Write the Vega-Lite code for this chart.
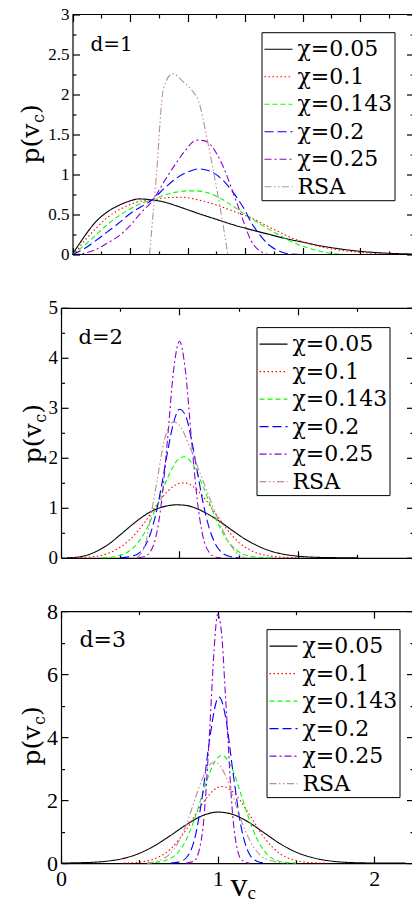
{
  "$schema": "https://vega.github.io/schema/vega-lite/v6.json",
  "padding": {"left": 19, "top": 5.5, "right": 0, "bottom": 0},
  "spacing": 53.3,
  "bounds": "flush",
  "resolve": {"scale": {"color": "independent", "strokeDash": "independent"}, "legend": {"color": "independent", "strokeDash": "independent"}},
  "config": {
    "view": {"stroke": null},
    "axis": {"domainColor": "black", "tickColor": "black", "domainWidth": 1.2, "tickWidth": 1.2, "labelColor": "black", "labelFont": "Liberation Serif", "grid": false, "labelOverlap": false, "labelFlush": false},
    "legend": {"title": null, "orient": "none", "strokeColor": "black", "fillColor": "white", "padding": 2, "labelFont": "DejaVu Serif", "labelFontSize": 22, "labelColor": "black", "labelLimit": 0, "labelOffset": 4, "symbolType": "stroke", "symbolSize": 784, "symbolStrokeWidth": 1.1, "rowPadding": 1.5}
  },
  "datasets": {
    "d1": [
      {"s": "χ=0.05", "x": 0, "y": 0}, {"s": "χ=0.05", "x": 0.03, "y": 0.07}, {"s": "χ=0.05", "x": 0.07, "y": 0.155}, {"s": "χ=0.05", "x": 0.13, "y": 0.28}, {"s": "χ=0.05", "x": 0.21, "y": 0.42}, {"s": "χ=0.05", "x": 0.3, "y": 0.53}, {"s": "χ=0.05", "x": 0.39, "y": 0.605}, {"s": "χ=0.05", "x": 0.48, "y": 0.66}, {"s": "χ=0.05", "x": 0.58, "y": 0.695}, {"s": "χ=0.05", "x": 0.7, "y": 0.68}, {"s": "χ=0.05", "x": 0.8, "y": 0.655}, {"s": "χ=0.05", "x": 0.9, "y": 0.61}, {"s": "χ=0.05", "x": 1.0, "y": 0.56}, {"s": "χ=0.05", "x": 1.1, "y": 0.51}, {"s": "χ=0.05", "x": 1.25, "y": 0.44}, {"s": "χ=0.05", "x": 1.4, "y": 0.37}, {"s": "χ=0.05", "x": 1.55, "y": 0.31}, {"s": "χ=0.05", "x": 1.7, "y": 0.255}, {"s": "χ=0.05", "x": 1.85, "y": 0.2}, {"s": "χ=0.05", "x": 2.0, "y": 0.155}, {"s": "χ=0.05", "x": 2.15, "y": 0.11}, {"s": "χ=0.05", "x": 2.3, "y": 0.075}, {"s": "χ=0.05", "x": 2.45, "y": 0.047}, {"s": "χ=0.05", "x": 2.6, "y": 0.028}, {"s": "χ=0.05", "x": 2.75, "y": 0.015}, {"s": "χ=0.05", "x": 2.96, "y": 0.006},
      {"s": "χ=0.1", "x": 0, "y": 0}, {"s": "χ=0.1", "x": 0.04, "y": 0.05}, {"s": "χ=0.1", "x": 0.08, "y": 0.13}, {"s": "χ=0.1", "x": 0.14, "y": 0.23}, {"s": "χ=0.1", "x": 0.2, "y": 0.32}, {"s": "χ=0.1", "x": 0.3, "y": 0.46}, {"s": "χ=0.1", "x": 0.42, "y": 0.57}, {"s": "χ=0.1", "x": 0.56, "y": 0.655}, {"s": "χ=0.1", "x": 0.7, "y": 0.685}, {"s": "χ=0.1", "x": 0.82, "y": 0.71}, {"s": "χ=0.1", "x": 0.95, "y": 0.715}, {"s": "χ=0.1", "x": 1.1, "y": 0.68}, {"s": "χ=0.1", "x": 1.25, "y": 0.62}, {"s": "χ=0.1", "x": 1.4, "y": 0.54}, {"s": "χ=0.1", "x": 1.55, "y": 0.46}, {"s": "χ=0.1", "x": 1.7, "y": 0.35}, {"s": "χ=0.1", "x": 1.8, "y": 0.28}, {"s": "χ=0.1", "x": 1.9, "y": 0.21}, {"s": "χ=0.1", "x": 2.0, "y": 0.16}, {"s": "χ=0.1", "x": 2.15, "y": 0.1}, {"s": "χ=0.1", "x": 2.3, "y": 0.06}, {"s": "χ=0.1", "x": 2.45, "y": 0.033}, {"s": "χ=0.1", "x": 2.6, "y": 0.015}, {"s": "χ=0.1", "x": 2.75, "y": 0.005}, {"s": "χ=0.1", "x": 2.9, "y": 0},
      {"s": "χ=0.143", "x": 0, "y": 0}, {"s": "χ=0.143", "x": 0.1, "y": 0.11}, {"s": "χ=0.143", "x": 0.2, "y": 0.24}, {"s": "χ=0.143", "x": 0.3, "y": 0.37}, {"s": "χ=0.143", "x": 0.4, "y": 0.48}, {"s": "χ=0.143", "x": 0.5, "y": 0.57}, {"s": "χ=0.143", "x": 0.6, "y": 0.64}, {"s": "χ=0.143", "x": 0.7, "y": 0.685}, {"s": "χ=0.143", "x": 0.8, "y": 0.745}, {"s": "χ=0.143", "x": 0.9, "y": 0.78}, {"s": "χ=0.143", "x": 1.0, "y": 0.795}, {"s": "χ=0.143", "x": 1.08, "y": 0.795}, {"s": "χ=0.143", "x": 1.2, "y": 0.76}, {"s": "χ=0.143", "x": 1.3, "y": 0.69}, {"s": "χ=0.143", "x": 1.4, "y": 0.6}, {"s": "χ=0.143", "x": 1.5, "y": 0.5}, {"s": "χ=0.143", "x": 1.6, "y": 0.41}, {"s": "χ=0.143", "x": 1.7, "y": 0.32}, {"s": "χ=0.143", "x": 1.8, "y": 0.24}, {"s": "χ=0.143", "x": 1.9, "y": 0.165}, {"s": "χ=0.143", "x": 2.0, "y": 0.105}, {"s": "χ=0.143", "x": 2.1, "y": 0.06}, {"s": "χ=0.143", "x": 2.2, "y": 0.025}, {"s": "χ=0.143", "x": 2.3, "y": 0.006}, {"s": "χ=0.143", "x": 2.4, "y": 0},
      {"s": "χ=0.2", "x": 0, "y": 0}, {"s": "χ=0.2", "x": 0.1, "y": 0.07}, {"s": "χ=0.2", "x": 0.2, "y": 0.17}, {"s": "χ=0.2", "x": 0.3, "y": 0.28}, {"s": "χ=0.2", "x": 0.4, "y": 0.39}, {"s": "χ=0.2", "x": 0.5, "y": 0.51}, {"s": "χ=0.2", "x": 0.6, "y": 0.6}, {"s": "χ=0.2", "x": 0.7, "y": 0.69}, {"s": "χ=0.2", "x": 0.8, "y": 0.83}, {"s": "χ=0.2", "x": 0.9, "y": 0.95}, {"s": "χ=0.2", "x": 1.0, "y": 1.03}, {"s": "χ=0.2", "x": 1.1, "y": 1.07}, {"s": "χ=0.2", "x": 1.2, "y": 1.04}, {"s": "χ=0.2", "x": 1.3, "y": 0.94}, {"s": "χ=0.2", "x": 1.4, "y": 0.77}, {"s": "χ=0.2", "x": 1.5, "y": 0.55}, {"s": "χ=0.2", "x": 1.55, "y": 0.41}, {"s": "χ=0.2", "x": 1.6, "y": 0.3}, {"s": "χ=0.2", "x": 1.7, "y": 0.13}, {"s": "χ=0.2", "x": 1.8, "y": 0.04}, {"s": "χ=0.2", "x": 1.9, "y": 0.005}, {"s": "χ=0.2", "x": 2.0, "y": 0},
      {"s": "χ=0.25", "x": 0, "y": 0}, {"s": "χ=0.25", "x": 0.1, "y": 0.015}, {"s": "χ=0.25", "x": 0.2, "y": 0.06}, {"s": "χ=0.25", "x": 0.3, "y": 0.14}, {"s": "χ=0.25", "x": 0.4, "y": 0.23}, {"s": "χ=0.25", "x": 0.5, "y": 0.36}, {"s": "χ=0.25", "x": 0.6, "y": 0.53}, {"s": "χ=0.25", "x": 0.7, "y": 0.68}, {"s": "χ=0.25", "x": 0.8, "y": 0.92}, {"s": "χ=0.25", "x": 0.9, "y": 1.14}, {"s": "χ=0.25", "x": 0.97, "y": 1.28}, {"s": "χ=0.25", "x": 1.08, "y": 1.43}, {"s": "χ=0.25", "x": 1.15, "y": 1.42}, {"s": "χ=0.25", "x": 1.2, "y": 1.37}, {"s": "χ=0.25", "x": 1.3, "y": 1.13}, {"s": "χ=0.25", "x": 1.4, "y": 0.76}, {"s": "χ=0.25", "x": 1.45, "y": 0.56}, {"s": "χ=0.25", "x": 1.5, "y": 0.36}, {"s": "χ=0.25", "x": 1.55, "y": 0.18}, {"s": "χ=0.25", "x": 1.6, "y": 0.08}, {"s": "χ=0.25", "x": 1.65, "y": 0.025}, {"s": "χ=0.25", "x": 1.7, "y": 0},
      {"s": "RSA", "x": 0.67, "y": 0}, {"s": "RSA", "x": 0.73, "y": 1.0}, {"s": "RSA", "x": 0.79, "y": 2.07}, {"s": "RSA", "x": 0.87, "y": 2.26}, {"s": "RSA", "x": 0.97, "y": 2.15}, {"s": "RSA", "x": 1.04, "y": 2.05}, {"s": "RSA", "x": 1.1, "y": 1.9}, {"s": "RSA", "x": 1.17, "y": 1.45}, {"s": "RSA", "x": 1.25, "y": 0.85}, {"s": "RSA", "x": 1.3, "y": 0.45}, {"s": "RSA", "x": 1.35, "y": 0}
    ],
    "d2": [
      {"s": "χ=0.05", "x": 0.05, "y": 0}, {"s": "χ=0.05", "x": 0.1, "y": 0.005}, {"s": "χ=0.05", "x": 0.2, "y": 0.04}, {"s": "χ=0.05", "x": 0.3, "y": 0.13}, {"s": "χ=0.05", "x": 0.4, "y": 0.27}, {"s": "χ=0.05", "x": 0.5, "y": 0.46}, {"s": "χ=0.05", "x": 0.6, "y": 0.66}, {"s": "χ=0.05", "x": 0.7, "y": 0.84}, {"s": "χ=0.05", "x": 0.8, "y": 0.97}, {"s": "χ=0.05", "x": 0.9, "y": 1.04}, {"s": "χ=0.05", "x": 0.97, "y": 1.06}, {"s": "χ=0.05", "x": 1.05, "y": 1.05}, {"s": "χ=0.05", "x": 1.15, "y": 0.98}, {"s": "χ=0.05", "x": 1.25, "y": 0.86}, {"s": "χ=0.05", "x": 1.35, "y": 0.71}, {"s": "χ=0.05", "x": 1.45, "y": 0.54}, {"s": "χ=0.05", "x": 1.55, "y": 0.38}, {"s": "χ=0.05", "x": 1.65, "y": 0.25}, {"s": "χ=0.05", "x": 1.75, "y": 0.15}, {"s": "χ=0.05", "x": 1.85, "y": 0.085}, {"s": "χ=0.05", "x": 1.95, "y": 0.045}, {"s": "χ=0.05", "x": 2.1, "y": 0.015}, {"s": "χ=0.05", "x": 2.3, "y": 0.003}, {"s": "χ=0.05", "x": 2.5, "y": 0},
      {"s": "χ=0.1", "x": 0.1, "y": 0}, {"s": "χ=0.1", "x": 0.3, "y": 0.03}, {"s": "χ=0.1", "x": 0.4, "y": 0.09}, {"s": "χ=0.1", "x": 0.5, "y": 0.21}, {"s": "χ=0.1", "x": 0.6, "y": 0.41}, {"s": "χ=0.1", "x": 0.7, "y": 0.69}, {"s": "χ=0.1", "x": 0.8, "y": 1.03}, {"s": "χ=0.1", "x": 0.9, "y": 1.33}, {"s": "χ=0.1", "x": 1.0, "y": 1.49}, {"s": "χ=0.1", "x": 1.05, "y": 1.5}, {"s": "χ=0.1", "x": 1.1, "y": 1.45}, {"s": "χ=0.1", "x": 1.2, "y": 1.22}, {"s": "χ=0.1", "x": 1.3, "y": 0.9}, {"s": "χ=0.1", "x": 1.4, "y": 0.57}, {"s": "χ=0.1", "x": 1.5, "y": 0.31}, {"s": "χ=0.1", "x": 1.6, "y": 0.15}, {"s": "χ=0.1", "x": 1.7, "y": 0.065}, {"s": "χ=0.1", "x": 1.8, "y": 0.025}, {"s": "χ=0.1", "x": 1.9, "y": 0.008}, {"s": "χ=0.1", "x": 2.0, "y": 0},
      {"s": "χ=0.143", "x": 0.35, "y": 0}, {"s": "χ=0.143", "x": 0.5, "y": 0.05}, {"s": "χ=0.143", "x": 0.6, "y": 0.18}, {"s": "χ=0.143", "x": 0.7, "y": 0.48}, {"s": "χ=0.143", "x": 0.8, "y": 0.99}, {"s": "χ=0.143", "x": 0.9, "y": 1.6}, {"s": "χ=0.143", "x": 1.0, "y": 1.99}, {"s": "χ=0.143", "x": 1.04, "y": 2.02}, {"s": "χ=0.143", "x": 1.1, "y": 1.91}, {"s": "χ=0.143", "x": 1.2, "y": 1.42}, {"s": "χ=0.143", "x": 1.3, "y": 0.82}, {"s": "χ=0.143", "x": 1.4, "y": 0.36}, {"s": "χ=0.143", "x": 1.5, "y": 0.12}, {"s": "χ=0.143", "x": 1.6, "y": 0.03}, {"s": "χ=0.143", "x": 1.7, "y": 0.005}, {"s": "χ=0.143", "x": 1.8, "y": 0},
      {"s": "χ=0.2", "x": 0.5, "y": 0}, {"s": "χ=0.2", "x": 0.6, "y": 0.03}, {"s": "χ=0.2", "x": 0.7, "y": 0.2}, {"s": "χ=0.2", "x": 0.75, "y": 0.45}, {"s": "χ=0.2", "x": 0.8, "y": 0.87}, {"s": "χ=0.2", "x": 0.85, "y": 1.46}, {"s": "χ=0.2", "x": 0.9, "y": 2.13}, {"s": "χ=0.2", "x": 0.95, "y": 2.7}, {"s": "χ=0.2", "x": 1.0, "y": 2.97}, {"s": "χ=0.2", "x": 1.05, "y": 2.85}, {"s": "χ=0.2", "x": 1.1, "y": 2.38}, {"s": "χ=0.2", "x": 1.15, "y": 1.73}, {"s": "χ=0.2", "x": 1.2, "y": 1.09}, {"s": "χ=0.2", "x": 1.25, "y": 0.6}, {"s": "χ=0.2", "x": 1.3, "y": 0.29}, {"s": "χ=0.2", "x": 1.35, "y": 0.12}, {"s": "χ=0.2", "x": 1.4, "y": 0.045}, {"s": "χ=0.2", "x": 1.5, "y": 0},
      {"s": "χ=0.25", "x": 0.65, "y": 0}, {"s": "χ=0.25", "x": 0.7, "y": 0.02}, {"s": "χ=0.25", "x": 0.75, "y": 0.11}, {"s": "χ=0.25", "x": 0.8, "y": 0.41}, {"s": "χ=0.25", "x": 0.85, "y": 1.15}, {"s": "χ=0.25", "x": 0.9, "y": 2.4}, {"s": "χ=0.25", "x": 0.95, "y": 3.74}, {"s": "χ=0.25", "x": 1.0, "y": 4.33}, {"s": "χ=0.25", "x": 1.05, "y": 3.74}, {"s": "χ=0.25", "x": 1.1, "y": 2.4}, {"s": "χ=0.25", "x": 1.15, "y": 1.15}, {"s": "χ=0.25", "x": 1.2, "y": 0.41}, {"s": "χ=0.25", "x": 1.25, "y": 0.11}, {"s": "χ=0.25", "x": 1.3, "y": 0.02}, {"s": "χ=0.25", "x": 1.35, "y": 0},
      {"s": "RSA", "x": 0.64, "y": 0}, {"s": "RSA", "x": 0.71, "y": 0.26}, {"s": "RSA", "x": 0.755, "y": 0.8}, {"s": "RSA", "x": 0.81, "y": 1.53}, {"s": "RSA", "x": 0.87, "y": 2.33}, {"s": "RSA", "x": 0.95, "y": 2.72}, {"s": "RSA", "x": 1.0, "y": 2.65}, {"s": "RSA", "x": 1.09, "y": 2.2}, {"s": "RSA", "x": 1.2, "y": 1.53}, {"s": "RSA", "x": 1.32, "y": 0.8}, {"s": "RSA", "x": 1.43, "y": 0.26}, {"s": "RSA", "x": 1.5, "y": 0.06}, {"s": "RSA", "x": 1.56, "y": 0}
    ],
    "d3": [
      {"s": "χ=0.05", "x": 0, "y": 0}, {"s": "χ=0.05", "x": 0.1, "y": 0.01}, {"s": "χ=0.05", "x": 0.2, "y": 0.025}, {"s": "χ=0.05", "x": 0.3, "y": 0.065}, {"s": "χ=0.05", "x": 0.4, "y": 0.15}, {"s": "χ=0.05", "x": 0.5, "y": 0.31}, {"s": "χ=0.05", "x": 0.6, "y": 0.56}, {"s": "χ=0.05", "x": 0.7, "y": 0.88}, {"s": "χ=0.05", "x": 0.8, "y": 1.22}, {"s": "χ=0.05", "x": 0.9, "y": 1.5}, {"s": "χ=0.05", "x": 1.0, "y": 1.62}, {"s": "χ=0.05", "x": 1.1, "y": 1.54}, {"s": "χ=0.05", "x": 1.2, "y": 1.29}, {"s": "χ=0.05", "x": 1.3, "y": 0.95}, {"s": "χ=0.05", "x": 1.4, "y": 0.61}, {"s": "χ=0.05", "x": 1.5, "y": 0.35}, {"s": "χ=0.05", "x": 1.6, "y": 0.18}, {"s": "χ=0.05", "x": 1.7, "y": 0.08}, {"s": "χ=0.05", "x": 1.8, "y": 0.03}, {"s": "χ=0.05", "x": 1.9, "y": 0.01}, {"s": "χ=0.05", "x": 2.0, "y": 0.003}, {"s": "χ=0.05", "x": 2.2, "y": 0},
      {"s": "χ=0.1", "x": 0.4, "y": 0}, {"s": "χ=0.1", "x": 0.5, "y": 0.03}, {"s": "χ=0.1", "x": 0.6, "y": 0.14}, {"s": "χ=0.1", "x": 0.7, "y": 0.45}, {"s": "χ=0.1", "x": 0.8, "y": 1.07}, {"s": "χ=0.1", "x": 0.9, "y": 1.87}, {"s": "χ=0.1", "x": 1.0, "y": 2.4}, {"s": "χ=0.1", "x": 1.03, "y": 2.43}, {"s": "χ=0.1", "x": 1.1, "y": 2.25}, {"s": "χ=0.1", "x": 1.2, "y": 1.56}, {"s": "χ=0.1", "x": 1.3, "y": 0.79}, {"s": "χ=0.1", "x": 1.4, "y": 0.29}, {"s": "χ=0.1", "x": 1.5, "y": 0.08}, {"s": "χ=0.1", "x": 1.6, "y": 0.015}, {"s": "χ=0.1", "x": 1.7, "y": 0},
      {"s": "χ=0.143", "x": 0.55, "y": 0}, {"s": "χ=0.143", "x": 0.6, "y": 0.016}, {"s": "χ=0.143", "x": 0.7, "y": 0.15}, {"s": "χ=0.143", "x": 0.8, "y": 0.75}, {"s": "χ=0.143", "x": 0.85, "y": 1.37}, {"s": "χ=0.143", "x": 0.9, "y": 2.14}, {"s": "χ=0.143", "x": 0.95, "y": 2.88}, {"s": "χ=0.143", "x": 1.0, "y": 3.35}, {"s": "χ=0.143", "x": 1.03, "y": 3.42}, {"s": "χ=0.143", "x": 1.05, "y": 3.36}, {"s": "χ=0.143", "x": 1.1, "y": 2.91}, {"s": "χ=0.143", "x": 1.15, "y": 2.17}, {"s": "χ=0.143", "x": 1.2, "y": 1.4}, {"s": "χ=0.143", "x": 1.25, "y": 0.78}, {"s": "χ=0.143", "x": 1.3, "y": 0.37}, {"s": "χ=0.143", "x": 1.4, "y": 0.05}, {"s": "χ=0.143", "x": 1.5, "y": 0},
      {"s": "χ=0.2", "x": 0.7, "y": 0}, {"s": "χ=0.2", "x": 0.75, "y": 0.03}, {"s": "χ=0.2", "x": 0.8, "y": 0.17}, {"s": "χ=0.2", "x": 0.85, "y": 0.71}, {"s": "χ=0.2", "x": 0.9, "y": 2.05}, {"s": "χ=0.2", "x": 0.95, "y": 3.98}, {"s": "χ=0.2", "x": 1.0, "y": 5.23}, {"s": "χ=0.2", "x": 1.01, "y": 5.27}, {"s": "χ=0.2", "x": 1.05, "y": 4.65}, {"s": "χ=0.2", "x": 1.1, "y": 2.8}, {"s": "χ=0.2", "x": 1.15, "y": 1.14}, {"s": "χ=0.2", "x": 1.2, "y": 0.31}, {"s": "χ=0.2", "x": 1.25, "y": 0.06}, {"s": "χ=0.2", "x": 1.3, "y": 0},
      {"s": "χ=0.25", "x": 0.8, "y": 0}, {"s": "χ=0.25", "x": 0.85, "y": 0.065}, {"s": "χ=0.25", "x": 0.9, "y": 0.88}, {"s": "χ=0.25", "x": 0.95, "y": 4.3}, {"s": "χ=0.25", "x": 0.975, "y": 6.6}, {"s": "χ=0.25", "x": 1.0, "y": 7.9}, {"s": "χ=0.25", "x": 1.025, "y": 7.3}, {"s": "χ=0.25", "x": 1.05, "y": 5.3}, {"s": "χ=0.25", "x": 1.1, "y": 1.3}, {"s": "χ=0.25", "x": 1.15, "y": 0.12}, {"s": "χ=0.25", "x": 1.2, "y": 0},
      {"s": "RSA", "x": 0.55, "y": 0}, {"s": "RSA", "x": 0.6, "y": 0.045}, {"s": "RSA", "x": 0.7, "y": 0.31}, {"s": "RSA", "x": 0.8, "y": 1.23}, {"s": "RSA", "x": 0.85, "y": 1.95}, {"s": "RSA", "x": 0.9, "y": 2.65}, {"s": "RSA", "x": 0.95, "y": 3.13}, {"s": "RSA", "x": 0.98, "y": 3.21}, {"s": "RSA", "x": 1.0, "y": 3.17}, {"s": "RSA", "x": 1.05, "y": 2.78}, {"s": "RSA", "x": 1.1, "y": 2.1}, {"s": "RSA", "x": 1.15, "y": 1.36}, {"s": "RSA", "x": 1.2, "y": 0.77}, {"s": "RSA", "x": 1.3, "y": 0.15}, {"s": "RSA", "x": 1.4, "y": 0.02}, {"s": "RSA", "x": 1.45, "y": 0}
    ]
  },
  "vconcat": [
    {
      "width": 352.5, "height": 240,
      "data": {"name": "d1"},
      "resolve": {"axis": {"x": "independent", "y": "independent"}},
      "layer": [
        {
          "mark": {"type": "line", "strokeWidth": 1.1, "interpolate": "monotone"},
          "encoding": {
            "x": {"field": "x", "type": "quantitative", "scale": {"domain": [-0.1, 2.965], "nice": false, "zero": false}, "axis": {"orient": "bottom", "title": null, "values": [0, 0.5, 1, 1.5, 2, 2.5], "tickSize": -7, "labels": false, "domain": false}},
            "y": {"field": "y", "type": "quantitative", "scale": {"domain": [0, 3], "nice": false}, "axis": {"orient": "left", "title": null, "values": [0, 0.5, 1, 1.5, 2, 2.5, 3], "tickSize": -7, "labelPadding": 10.5, "labelFontSize": 17, "format": "~g", "offset": -11.5}},
            "color": {"field": "s", "type": "nominal", "scale": {"domain": ["χ=0.05", "χ=0.1", "χ=0.143", "χ=0.2", "χ=0.25", "RSA"], "range": ["#000000", "#ff0000", "#00ff00", "#0000ff", "#9400d3", "#bc8f8f"]}, "legend": {"legendX": 200.5, "legendY": 17.7}},
            "strokeDash": {"field": "s", "type": "nominal", "scale": {"domain": ["χ=0.05", "χ=0.1", "χ=0.143", "χ=0.2", "χ=0.25", "RSA"], "range": [[1, 0], [1.5, 2.5], [5, 3], [9, 4], [7, 3, 2, 3], [7, 2.5, 1.5, 2.5, 1.5, 2.5]]}, "legend": {"legendX": 200.5, "legendY": 17.7}}
          }
        },
        {
          "data": {"values": [{"t": "d=1"}]},
          "mark": {"type": "text", "font": "DejaVu Serif", "fontSize": 20, "align": "left", "baseline": "alphabetic", "color": "black"},
          "encoding": {
            "x": {"datum": 0.1565, "type": "quantitative", "axis": {"orient": "bottom", "title": null, "values": [0.25, 0.75, 1.25, 1.75, 2.25, 2.75], "tickSize": -3.5, "labels": false, "domain": false}},
            "y": {"datum": 2.55, "type": "quantitative", "axis": {"orient": "left", "title": null, "values": [0.25, 0.75, 1.25, 1.75, 2.25, 2.75], "tickSize": -3.5, "labels": false, "domain": false, "offset": -11.5}},
            "text": {"field": "t"}
          }
        },
        {
          "data": {"values": [{"t": "p(v"}]},
          "mark": {"type": "text", "font": "DejaVu Serif", "fontSize": 25, "align": "left", "baseline": "alphabetic", "angle": 270, "color": "black"},
          "encoding": {
            "x": {"datum": -0.287, "type": "quantitative", "axis": {"orient": "top", "title": null, "values": [0, 0.5, 1, 1.5, 2, 2.5], "tickSize": -7, "labels": false, "domain": false}},
            "y": {"datum": 1.1375, "type": "quantitative", "axis": {"orient": "right", "title": null, "values": [0, 0.5, 1, 1.5, 2, 2.5, 3], "tickSize": -7, "labels": false}},
            "text": {"field": "t"}
          }
        },
        {
          "data": {"values": [{"t": "c"}]},
          "mark": {"type": "text", "font": "DejaVu Serif", "fontSize": 16, "align": "left", "baseline": "alphabetic", "angle": 270, "color": "black"},
          "encoding": {
            "x": {"datum": -0.2435, "type": "quantitative", "axis": {"orient": "top", "title": null, "values": [0.25, 0.75, 1.25, 1.75, 2.25, 2.75], "tickSize": -3.5, "labels": false, "domain": false}},
            "y": {"datum": 1.644, "type": "quantitative", "axis": {"orient": "right", "title": null, "values": [0.25, 0.75, 1.25, 1.75, 2.25, 2.75], "tickSize": -3.5, "labels": false, "domain": false}},
            "text": {"field": "t"}
          }
        },
        {
          "data": {"values": [{"t": ")"}]},
          "mark": {"type": "text", "font": "DejaVu Serif", "fontSize": 25, "align": "left", "baseline": "alphabetic", "angle": 270, "color": "black"},
          "encoding": {
            "x": {"datum": -0.287, "type": "quantitative", "axis": null},
            "y": {"datum": 1.756, "type": "quantitative", "axis": null},
            "text": {"field": "t"}
          }
        },
        {
          "data": {"values": [{}]},
          "mark": {"type": "rule", "color": "black", "strokeWidth": 1.2},
          "encoding": {
            "x": {"datum": 0, "type": "quantitative", "axis": null},
            "x2": {"datum": 2.965},
            "y": {"datum": 3, "type": "quantitative", "axis": null}
          }
        },
        {
          "data": {"values": [{}]},
          "mark": {"type": "rule", "color": "black", "strokeWidth": 1.2},
          "encoding": {
            "x": {"datum": 0, "type": "quantitative", "axis": null},
            "x2": {"datum": 2.965},
            "y": {"datum": 0, "type": "quantitative", "axis": null}
          }
        }
      ]
    },
    {
      "width": 352.5, "height": 250,
      "data": {"name": "d2"},
      "resolve": {"axis": {"x": "independent", "y": "independent"}},
      "layer": [
        {
          "mark": {"type": "line", "strokeWidth": 1.1, "interpolate": "monotone"},
          "encoding": {
            "x": {"field": "x", "type": "quantitative", "scale": {"domain": [0, 2.975], "nice": false, "zero": false}, "axis": {"orient": "bottom", "title": null, "values": [0, 1, 2], "tickSize": -7, "labels": false}},
            "y": {"field": "y", "type": "quantitative", "scale": {"domain": [0, 5], "nice": false}, "axis": {"orient": "left", "title": null, "values": [0, 1, 2, 3, 4, 5], "tickSize": -7, "labelPadding": 10.5, "labelFontSize": 19, "format": "~g"}},
            "color": {"field": "s", "type": "nominal", "scale": {"domain": ["χ=0.05", "χ=0.1", "χ=0.143", "χ=0.2", "χ=0.25", "RSA"], "range": ["#000000", "#ff0000", "#00ff00", "#0000ff", "#9400d3", "#bc8f8f"]}, "legend": {"legendX": 195.5, "legendY": 19.3}},
            "strokeDash": {"field": "s", "type": "nominal", "scale": {"domain": ["χ=0.05", "χ=0.1", "χ=0.143", "χ=0.2", "χ=0.25", "RSA"], "range": [[1, 0], [1.5, 2.5], [5, 3], [9, 4], [7, 3, 2, 3], [7, 2.5, 1.5, 2.5, 1.5, 2.5]]}, "legend": {"legendX": 195.5, "legendY": 19.3}}
          }
        },
        {
          "data": {"values": [{"t": "d=2"}]},
          "mark": {"type": "text", "font": "DejaVu Serif", "fontSize": 21, "align": "left", "baseline": "alphabetic", "color": "black"},
          "encoding": {
            "x": {"datum": 0.148, "type": "quantitative", "axis": {"orient": "bottom", "title": null, "values": [0.5, 1.5, 2.5], "tickSize": -3.5, "labels": false, "domain": false}},
            "y": {"datum": 4.27, "type": "quantitative", "axis": {"orient": "left", "title": null, "values": [0.5, 1.5, 2.5, 3.5, 4.5], "tickSize": -3.5, "labels": false, "domain": false}},
            "text": {"field": "t"}
          }
        },
        {
          "data": {"values": [{"t": "p(v"}]},
          "mark": {"type": "text", "font": "DejaVu Serif", "fontSize": 25, "align": "left", "baseline": "alphabetic", "angle": 270, "color": "black"},
          "encoding": {
            "x": {"datum": -0.169, "type": "quantitative", "axis": {"orient": "top", "title": null, "values": [0, 1, 2], "tickSize": -7, "labels": false}},
            "y": {"datum": 1.89, "type": "quantitative", "axis": {"orient": "right", "title": null, "values": [0, 1, 2, 3, 4, 5], "tickSize": -7, "labels": false}},
            "text": {"field": "t"}
          }
        },
        {
          "data": {"values": [{"t": "c"}]},
          "mark": {"type": "text", "font": "DejaVu Serif", "fontSize": 16, "align": "left", "baseline": "alphabetic", "angle": 270, "color": "black"},
          "encoding": {
            "x": {"datum": -0.127, "type": "quantitative", "axis": {"orient": "top", "title": null, "values": [0.5, 1.5, 2.5], "tickSize": -3.5, "labels": false, "domain": false}},
            "y": {"datum": 2.7, "type": "quantitative", "axis": {"orient": "right", "title": null, "values": [0.5, 1.5, 2.5, 3.5, 4.5], "tickSize": -3.5, "labels": false, "domain": false}},
            "text": {"field": "t"}
          }
        },
        {
          "data": {"values": [{"t": ")"}]},
          "mark": {"type": "text", "font": "DejaVu Serif", "fontSize": 25, "align": "left", "baseline": "alphabetic", "angle": 270, "color": "black"},
          "encoding": {
            "x": {"datum": -0.169, "type": "quantitative", "axis": null},
            "y": {"datum": 2.88, "type": "quantitative", "axis": null},
            "text": {"field": "t"}
          }
        }
      ]
    },
    {
      "width": 352.5, "height": 252,
      "data": {"name": "d3"},
      "resolve": {"axis": {"x": "independent", "y": "independent"}},
      "layer": [
        {
          "mark": {"type": "line", "strokeWidth": 1.1, "interpolate": "monotone"},
          "encoding": {
            "x": {"field": "x", "type": "quantitative", "scale": {"domain": [0, 2.25], "nice": false, "zero": false}, "axis": {"orient": "bottom", "title": null, "values": [0, 1, 2], "tickSize": -7, "labelPadding": 12, "labelFontSize": 22, "format": "~g"}},
            "y": {"field": "y", "type": "quantitative", "scale": {"domain": [0, 8], "nice": false}, "axis": {"orient": "left", "title": null, "values": [0, 2, 4, 6, 8], "tickSize": -7, "labelPadding": 10.5, "labelFontSize": 22, "format": "~g"}},
            "color": {"field": "s", "type": "nominal", "scale": {"domain": ["χ=0.05", "χ=0.1", "χ=0.143", "χ=0.2", "χ=0.25", "RSA"], "range": ["#000000", "#ff0000", "#00ff00", "#0000ff", "#9400d3", "#bc8f8f"]}, "legend": {"legendX": 205.5, "legendY": 18}},
            "strokeDash": {"field": "s", "type": "nominal", "scale": {"domain": ["χ=0.05", "χ=0.1", "χ=0.143", "χ=0.2", "χ=0.25", "RSA"], "range": [[1, 0], [1.5, 2.5], [5, 3], [9, 4], [7, 3, 2, 3], [7, 2.5, 1.5, 2.5, 1.5, 2.5]]}, "legend": {"legendX": 205.5, "legendY": 18}}
          }
        },
        {
          "data": {"values": [{"t": "d=3"}]},
          "mark": {"type": "text", "font": "DejaVu Serif", "fontSize": 22, "align": "left", "baseline": "alphabetic", "color": "black"},
          "encoding": {
            "x": {"datum": 0.118, "type": "quantitative", "axis": {"orient": "bottom", "title": null, "values": [0.5, 1.5], "tickSize": -3.5, "labels": false, "domain": false}},
            "y": {"datum": 6.85, "type": "quantitative", "axis": {"orient": "left", "title": null, "values": [1, 3, 5, 7], "tickSize": -3.5, "labels": false, "domain": false}},
            "text": {"field": "t"}
          }
        },
        {
          "data": {"values": [{"t": "p(v"}]},
          "mark": {"type": "text", "font": "DejaVu Serif", "fontSize": 25, "align": "left", "baseline": "alphabetic", "angle": 270, "color": "black"},
          "encoding": {
            "x": {"datum": -0.131, "type": "quantitative", "axis": {"orient": "top", "title": null, "values": [0, 1, 2], "tickSize": -7, "labels": false}},
            "y": {"datum": 3.1, "type": "quantitative", "axis": {"orient": "right", "title": null, "values": [0, 2, 4, 6, 8], "tickSize": -7, "labels": false}},
            "text": {"field": "t"}
          }
        },
        {
          "data": {"values": [{"t": "c"}]},
          "mark": {"type": "text", "font": "DejaVu Serif", "fontSize": 16, "align": "left", "baseline": "alphabetic", "angle": 270, "color": "black"},
          "encoding": {
            "x": {"datum": -0.099, "type": "quantitative", "axis": {"orient": "top", "title": null, "values": [0.5, 1.5], "tickSize": -3.5, "labels": false, "domain": false}},
            "y": {"datum": 4.387, "type": "quantitative", "axis": {"orient": "right", "title": null, "values": [1, 3, 5, 7], "tickSize": -3.5, "labels": false, "domain": false}},
            "text": {"field": "t"}
          }
        },
        {
          "data": {"values": [{"t": ")"}]},
          "mark": {"type": "text", "font": "DejaVu Serif", "fontSize": 25, "align": "left", "baseline": "alphabetic", "angle": 270, "color": "black"},
          "encoding": {
            "x": {"datum": -0.131, "type": "quantitative", "axis": null},
            "y": {"datum": 4.673, "type": "quantitative", "axis": null},
            "text": {"field": "t"}
          }
        },
        {
          "data": {"values": [{"t": "v"}]},
          "mark": {"type": "text", "font": "Liberation Serif", "fontSize": 34, "align": "center", "baseline": "alphabetic", "color": "black"},
          "encoding": {
            "x": {"datum": 1.136, "type": "quantitative", "axis": null},
            "y": {"datum": -1.06, "type": "quantitative", "axis": null},
            "text": {"field": "t"}
          }
        },
        {
          "data": {"values": [{"t": "c"}]},
          "mark": {"type": "text", "font": "Liberation Serif", "fontSize": 19, "align": "left", "baseline": "alphabetic", "color": "black"},
          "encoding": {
            "x": {"datum": 1.19, "type": "quantitative", "axis": null},
            "y": {"datum": -1.13, "type": "quantitative", "axis": null},
            "text": {"field": "t"}
          }
        }
      ]
    }
  ]
}
